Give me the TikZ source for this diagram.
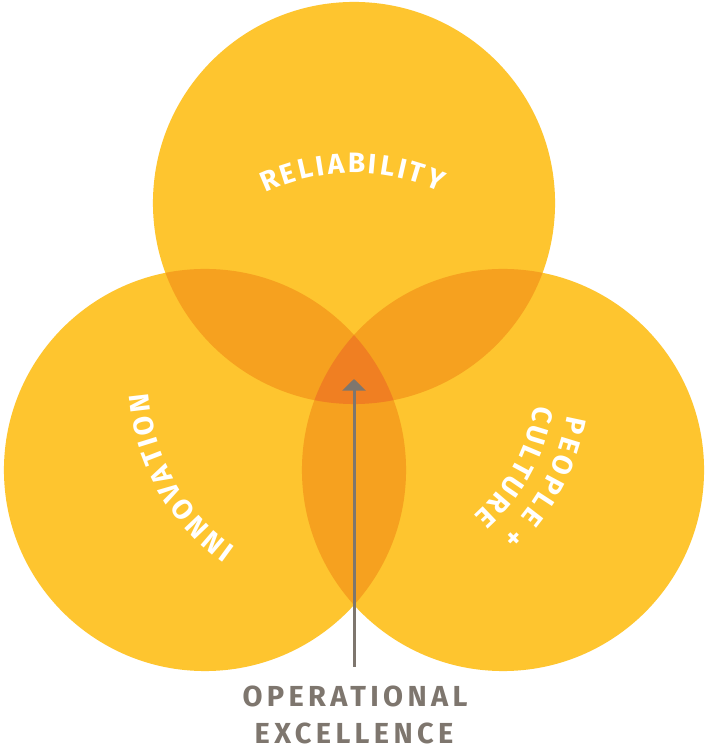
\documentclass[tikz,border=0pt]{standalone}
\usepackage{fontspec}
\setmainfont{Fira Sans}
\usetikzlibrary{arrows.meta, calc, decorations.text}
\definecolor{petal}{HTML}{FEC52F}
\definecolor{lens}{HTML}{F6A11F}
\definecolor{core}{HTML}{F07F22}
\definecolor{ink}{HTML}{7E766E}
\newcommand{\arcfont}{\bfseries\fontsize{20}{23}\selectfont}

\begin{document}
\begin{tikzpicture}[
    x=0.025cm, y=0.025cm,
    petalfill/.style={fill=petal},
    lensfill/.style={fill=lens},
    corefill/.style={fill=core},
    arclabel/.style={decorate, decoration={text along path, text align={fit to path}, text color=white, text={#1}}},
    pointer/.style={-{Triangle[width=0.575cm, length=0.29cm]}, line width=0.075cm, ink},
    caption/.style={ink, anchor=base, inner sep=0pt, font=\bfseries\fontsize{20.6}{24}\selectfont\addfontfeature{LetterSpace=15}}
]
\fill[white] (0,0) rectangle (704,750);
\useasboundingbox (0,0) rectangle (704,750);

\coordinate (rel) at (354,547);
\coordinate (inn) at (205,280);
\coordinate (ppl) at (503,280);
\coordinate (hub) at (354,371);

% three circles, then the lenses and the middle
\foreach \c in {rel,inn,ppl}
    \fill[petalfill] (\c) circle (5.025cm);
\foreach \a/\b in {rel/inn, rel/ppl, inn/ppl} {
    \begin{scope}
        \clip (\a) circle (5.025cm);
        \fill[lensfill] (\b) circle (5.025cm);
    \end{scope}
}
\begin{scope}
    \clip (rel) circle (5.025cm);
    \clip (inn) circle (5.025cm);
    \fill[corefill] (ppl) circle (5.025cm);
\end{scope}

% labels bent round the hub
\path[arclabel={|\arcfont|RELIABILITY}] ($(hub)+(115.5:5.15cm)$) arc[start angle=115.5, end angle=65.5, radius=5.15cm];
\path[arclabel={|\arcfont|INNOVATION}] ($(hub)+(235:5.15cm)$) arc[start angle=235, end angle=184, radius=5.15cm];
\path[arclabel={|\arcfont|PEOPLE +}] ($(hub)+(-9.8:5.4cm)$) arc[start angle=-9.8, end angle=-47, radius=5.4cm];
\path[arclabel={|\arcfont|CULTURE}] ($(hub)+(-8.4:4.55cm)$) arc[start angle=-8.4, end angle=-48.7, radius=4.55cm];

\node[caption] (operational) at (355,44) {OPERATIONAL};
\node[caption] (excellence) at (354,7) {EXCELLENCE};

\coordinate (stem) at (354,83);
\draw[pointer] (stem) -- (hub);

\end{tikzpicture}
\end{document}
